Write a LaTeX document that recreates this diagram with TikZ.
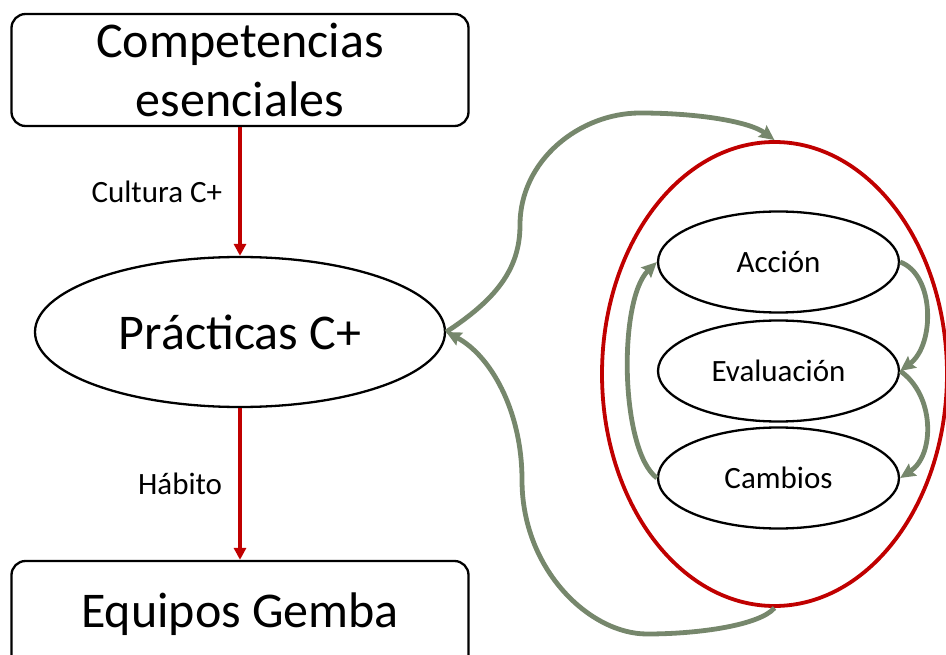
\documentclass[tikz,border=0pt]{standalone}
\usepackage{fontspec}
\setmainfont{Carlito}
\usetikzlibrary{shapes.geometric,arrows.meta}
\definecolor{cred}{RGB}{192,0,0}
\definecolor{cgreen}{RGB}{118,135,108}
\begin{document}
\begin{tikzpicture}[x=1pt,y=-1pt,
  box/.style={draw=black,line width=2.3pt,rounded corners=14pt,minimum width=457pt,inner sep=0pt},
  oval/.style={draw=black,line width=2.3pt,ellipse,inner sep=0pt},
  redarrow/.style={draw=cred,line width=3.8pt,-{Triangle[length=12pt,width=12pt]}},
  greenarrow/.style={draw=cgreen,line width=4.8pt,-{Stealth[length=15pt,width=14pt,inset=2pt]}},
  big/.style={font=\fontsize{50}{59}\selectfont},
  small/.style={font=\fontsize{31}{37}\selectfont},
  lbl/.style={font=\fontsize{31}{37}\selectfont,anchor=east,inner sep=0pt,xshift=-16pt}]
\useasboundingbox (0,0) rectangle (946,655);
\clip (0,0) rectangle (946,655);

\node[box,big,minimum height=112pt,align=center,text height=94pt,text depth=0pt] (comp) at (240,70) {Competencias\\esenciales};
\node[box,big,minimum height=130pt,text height=36pt,text depth=34pt] (gemba) at (240,626) {Equipos Gemba};
\node[oval,big,minimum width=410pt,minimum height=150pt] (prac) at (240,332) {Prácticas C+};

\node[draw=cred,line width=3.8pt,ellipse,inner sep=0pt,minimum width=345pt,minimum height=464pt] (cyc) at (774.5,374) {};
\node[oval,small,minimum width=241pt,minimum height=101pt] (acc) at (778.5,262) {Acción};
\node[oval,small,minimum width=241pt,minimum height=101pt] (eva) at (778.5,371) {Evaluación};
\node[oval,small,minimum width=241pt,minimum height=101pt] (cam) at (778.5,478) {Cambios};

\draw[redarrow] (comp.south) -- node[lbl] {Cultura C+} (prac.north);
\draw[redarrow] (prac.south) -- node[lbl] {Hábito} (gemba.north);

\draw[greenarrow] (prac.east) .. controls (495,300) and (520,270) .. (520,225)
  .. controls (520,160) and (580,113) .. (640,113)
  .. controls (700,113) and (750,122) .. (cyc.north);
\draw[greenarrow] (cyc.south) .. controls (760,625) and (700,634) .. (647,634)
  .. controls (590,634) and (522,570) .. (522,480)
  .. controls (522,410) and (490,355) .. (prac.east);

\draw[greenarrow] (acc.east) .. controls (935,275) and (935,345) .. (eva.east);
\draw[greenarrow] (eva.east) .. controls (935,395) and (935,455) .. (cam.east);
\draw[greenarrow] (cam.west) .. controls (620,450) and (618,300) .. (acc.west);
\end{tikzpicture}
\end{document}
